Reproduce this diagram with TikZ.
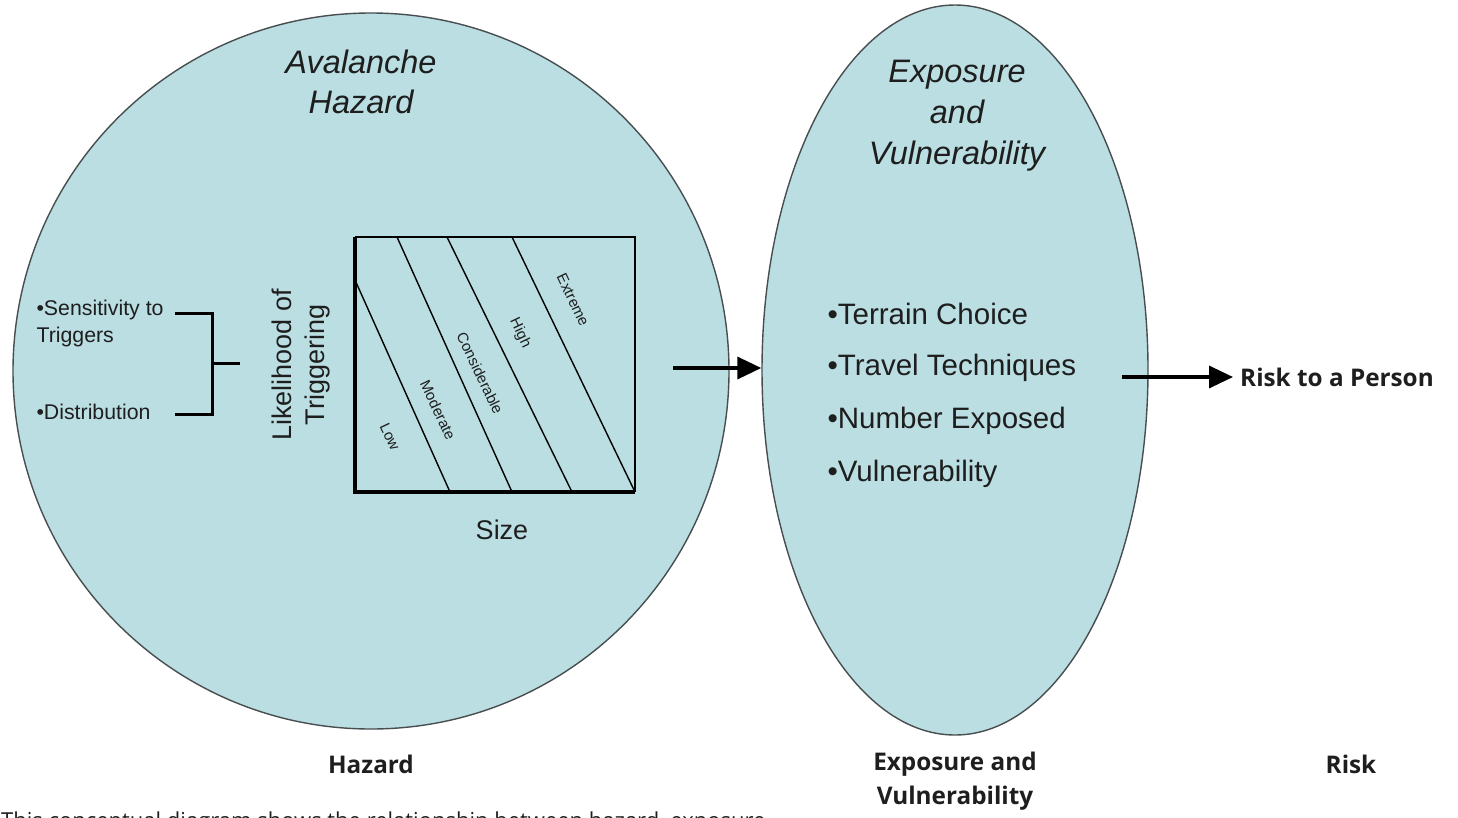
\documentclass[tikz,border=0pt]{standalone}
\usepackage{fontspec}
\setmainfont{Liberation Sans}
\newfontfamily\capfont{Open Sans}
\usetikzlibrary{arrows.meta,shapes.geometric}

\definecolor{zonefill}{RGB}{186,222,226}
\definecolor{edgegray}{RGB}{72,78,80}
\definecolor{inkgray}{RGB}{30,30,30}

\tikzset{
  zone/.style={draw=edgegray, line width=1.4pt, fill=zonefill, inner sep=0pt},
  bigarrow/.style={-{Triangle[length=24pt,width=22pt]}, line width=3.5pt},
  zonetitle/.style={font=\fontsize{32.5}{40}\selectfont\itshape, align=center, text=inkgray},
  bullet/.style={font=\fontsize{29.5}{34}\selectfont, anchor=west, text=inkgray},
  band/.style={font=\fontsize{15}{17}\selectfont, rotate=-64.5, text=inkgray},
  factor/.style={font=\fontsize{21.3}{27}\selectfont, anchor=west, align=left, text=inkgray},
  heading/.style={font=\capfont\bfseries\fontsize{24.3}{34}\selectfont, align=center, text=inkgray},
}

\begin{document}
\begin{tikzpicture}[x=1pt, y=-1pt]
  \useasboundingbox (0,0) rectangle (1458,817);

  % the two zones
  \node[zone, circle, minimum size=716pt] (hazard) at (371,371) {};
  \node[zone, ellipse, minimum width=386pt, minimum height=730pt] (expo) at (955,370) {};

  \node[zonetitle] (haztitle) at (361,82) {Avalanche\\Hazard};
  \node[zonetitle, font=\fontsize{32.5}{41}\selectfont\itshape] (expotitle) at (957,116) {Exposure\\and\\Vulnerability};

  % likelihood / size chart
  \draw[line width=1.4pt] (355,237) -- (635,237) -- (635,492);
  \draw[line width=3.4pt] (355,237) -- (355,492) -- (635,492);
  \draw[line width=1.4pt] (355,280) -- (450,492);
  \draw[line width=1.4pt] (397,237) -- (512,492);
  \draw[line width=1.4pt] (447,237) -- (572,492);
  \draw[line width=1.4pt] (512,237) -- (635,492);
  \node[band] (low) at (390,437) {Low};
  \node[band] (moderate) at (438,410) {Moderate};
  \node[band] (considerable) at (480,373) {Considerable};
  \node[band] (high) at (520,333) {High};
  \node[band] (extreme) at (573,300) {Extreme};

  \node[font=\fontsize{27}{33}\selectfont, rotate=90, align=center, text=inkgray] (likely) at (301,365) {Likelihood of\\Triggering};
  \node[font=\fontsize{27}{33}\selectfont, text=inkgray] (size) at (502,530) {Size};

  % factors feeding the likelihood
  \node[factor] (sens) at (33,323) {•Sensitivity to\\Triggers};
  \node[factor] (distr) at (33,412) {•Distribution};
  \draw[line width=3pt] (175,313) -- (212,313) -- (212,414) -- (175,414);
  \draw[line width=3pt] (212,363) -- (240,363);

  % exposure factors
  \node[bullet] (terrain) at (824,314) {•Terrain Choice};
  \node[bullet] (travel) at (824,368) {•Travel Techniques};
  \node[bullet] (number) at (824,421) {•Number Exposed};
  \node[bullet] (vuln) at (824,474) {•Vulnerability};

  % flow to risk
  \coordinate (hazout) at (673,368);
  \draw[bigarrow] (hazout) -- (hazout -| expo.west);
  \node[heading, anchor=west, inner sep=7pt] (risk) at (1233,377) {Risk to a Person};
  \coordinate (expoout) at (1122,377);
  \draw[bigarrow] (expoout) -- (risk);

  % captions under the zones
  \node[heading] (hazlabel) at (371,764) {Hazard};
  \node[heading] (expolabel) at (955,781) {Exposure and\\Vulnerability};
  \node[heading] (risklabel) at (1351,764) {Risk};
  \node[font=\capfont\fontsize{22}{26}\selectfont, anchor=base west, inner sep=0pt, text=inkgray] (caption) at (1,828)
    {This conceptual diagram shows the relationship between hazard, exposure};
\end{tikzpicture}
\end{document}
